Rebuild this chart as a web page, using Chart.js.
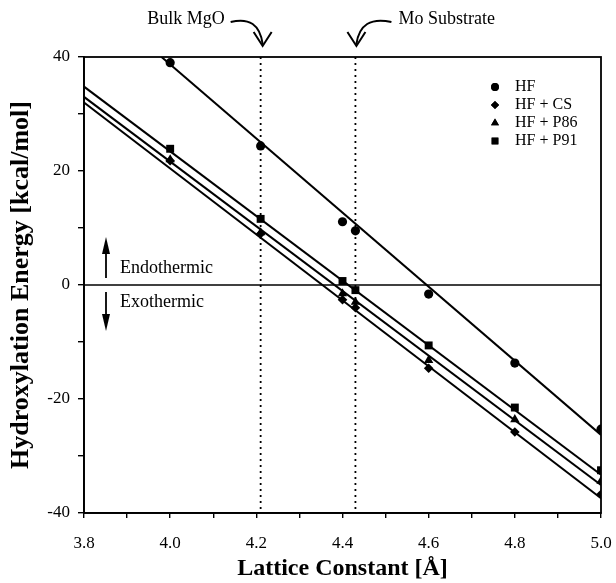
<!DOCTYPE html>
<html>
<head>
<meta charset="utf-8">
<script src="https://cdn.jsdelivr.net/npm/chart.js@4.4.1/dist/chart.umd.min.js"></script>
<style>
  html, body { margin: 0; padding: 0; background: #fff; }
  #wrap { width: 616px; height: 583px; }
</style>
</head>
<body>
<div id="wrap"><canvas id="chart" width="616" height="583"></canvas></div>
<script>
const FONT = "'Liberation Serif', 'Times New Roman', serif";

// lattice constants [Å]
const latticeConstants = [4.0, 4.21, 4.40, 4.43, 4.6, 4.8, 5.0];

// hydroxylation energies [kcal/mol]
const hfValues  = [39.0, 24.4, 11.1, 9.5, -1.6, -13.7, -25.3];
const csValues  = [21.8, 9.0, -2.6, -4.0, -14.6, -25.8, -36.7];
const p86Values = [22.0, 9.2, -1.5, -3.0, -13.2, -23.6, -34.4];
const p91Values = [23.9, 11.6, 0.7, -0.9, -10.6, -21.5, -32.5];

// fitted straight lines, [x, y] end points
const hfFit  = [[3.98, 40.0], [5.0, -26.3]];
const csFit  = [[3.8, 32.0], [5.0, -37.4]];
const p86Fit = [[3.8, 33.0], [5.0, -35.1]];
const p91Fit = [[3.8, 34.8], [5.0, -33.3]];

const seriesLabels = ['HF', 'HF + CS', 'HF + P86', 'HF + P91'];
const seriesMarkers = ['circle', 'rectRot', 'triangle', 'rect'];
const markerSizes = [4.6, 4.8, 5.4, 5.6];

// reference positions
const bulkMgO = 4.21;
const moSubstrate = 4.43;

const xTicks = [3.8, 4.0, 4.2, 4.4, 4.6, 4.8, 5.0];
const xMinorTicks = [3.8, 3.9, 4.0, 4.1, 4.2, 4.3, 4.4, 4.5, 4.6, 4.7, 4.8, 4.9, 5.0];
const yTicks = [-40, -20, 0, 20, 40];

function toPoints(xs, ys) {
    return xs.map((x, i) => ({ x: x, y: ys[i] }));
}

function fitPoints(pairs) {
    return pairs.map(p => ({ x: p[0], y: p[1] }));
}

const markerSets = [hfValues, csValues, p86Values, p91Values].map((vals, i) => ({
    label: seriesLabels[i],
    data: toPoints(latticeConstants, vals),
    showLine: false,
    pointStyle: seriesMarkers[i],
    pointRadius: markerSizes[i],
    backgroundColor: '#000',
    borderColor: '#000',
    borderWidth: 0
}));

const fitSets = [hfFit, csFit, p86Fit, p91Fit].map((pairs, i) => ({
    label: seriesLabels[i] + ' fit',
    data: fitPoints(pairs),
    showLine: true,
    pointRadius: 0,
    borderColor: '#000',
    borderWidth: 2,
    fill: false
}));

const decorations = {
    id: 'decorations',
    beforeDatasetsDraw(chart) {
        const { ctx, chartArea: a, scales: { x, y } } = chart;
        ctx.save();
        ctx.strokeStyle = '#000';
        // zero line
        ctx.lineWidth = 1.6;
        ctx.beginPath();
        ctx.moveTo(a.left, y.getPixelForValue(0));
        ctx.lineTo(a.right, y.getPixelForValue(0));
        ctx.stroke();
        // dotted reference lines
        ctx.lineWidth = 1.8;
        ctx.setLineDash([2, 4]);
        [bulkMgO, moSubstrate].forEach(v => {
            const px = x.getPixelForValue(v);
            ctx.beginPath();
            ctx.moveTo(px, a.top);
            ctx.lineTo(px, a.bottom);
            ctx.stroke();
        });
        ctx.restore();
    },
    afterDraw(chart) {
        const { ctx, chartArea: a, scales: { x, y } } = chart;
        ctx.save();
        ctx.strokeStyle = '#000';
        ctx.fillStyle = '#000';
        // frame
        ctx.lineWidth = 1.8;
        ctx.strokeRect(a.left, a.top, a.right - a.left, a.bottom - a.top);

        // top annotations
        ctx.font = '18px ' + FONT;
        ctx.textBaseline = 'middle';
        ctx.lineWidth = 2;
        const mg = x.getPixelForValue(bulkMgO) + 2;
        const mo = x.getPixelForValue(moSubstrate) + 1;
        ctx.textAlign = 'right';
        ctx.fillText('Bulk MgO', mg - 38, 19);
        ctx.beginPath();
        ctx.moveTo(mg - 32, 22);
        ctx.quadraticCurveTo(mg - 4, 15, mg, 44);
        ctx.stroke();
        ctx.beginPath();
        ctx.moveTo(mg - 9, 32); ctx.lineTo(mg, 46); ctx.lineTo(mg + 9, 32);
        ctx.stroke();

        ctx.textAlign = 'left';
        ctx.fillText('Mo Substrate', mo + 42, 19);
        ctx.beginPath();
        ctx.moveTo(mo + 35, 22);
        ctx.quadraticCurveTo(mo + 4, 15, mo, 44);
        ctx.stroke();
        ctx.beginPath();
        ctx.moveTo(mo - 9, 32); ctx.lineTo(mo, 46); ctx.lineTo(mo + 9, 32);
        ctx.stroke();

        // endo / exothermic
        const zero = y.getPixelForValue(0);
        ctx.font = '18px ' + FONT;
        ctx.textAlign = 'left';
        ctx.fillText('Endothermic', a.left + 36, zero - 17);
        ctx.fillText('Exothermic', a.left + 36, zero + 17);
        const ax = a.left + 22;
        ctx.lineWidth = 1.8;
        ctx.beginPath(); ctx.moveTo(ax, zero - 7); ctx.lineTo(ax, zero - 40); ctx.stroke();
        ctx.beginPath(); ctx.moveTo(ax - 4, zero - 31); ctx.lineTo(ax, zero - 48); ctx.lineTo(ax + 4, zero - 31); ctx.closePath(); ctx.fill();
        ctx.beginPath(); ctx.moveTo(ax, zero + 7); ctx.lineTo(ax, zero + 38); ctx.stroke();
        ctx.beginPath(); ctx.moveTo(ax - 4, zero + 29); ctx.lineTo(ax, zero + 46); ctx.lineTo(ax + 4, zero + 29); ctx.closePath(); ctx.fill();

        // legend
        ctx.font = '16px ' + FONT;
        const lx = a.right - 106, ly = a.top + 30;
        markerSets.forEach((ds, i) => {
            const yy = ly + i * 18;
            Chart.helpers.drawPoint(ctx, { pointStyle: ds.pointStyle, radius: ds.pointRadius * 0.85, borderWidth: 0 }, lx, yy);
            ctx.fill();
            ctx.fillText(ds.label, lx + 20, yy);
        });
        ctx.restore();
    }
};

new Chart(document.getElementById('chart'), {
    type: 'scatter',
    data: { datasets: [...fitSets, ...markerSets] },
    options: {
        responsive: false,
        animation: false,
        layout: { padding: { top: 57, right: 15, left: 0, bottom: 0 } },
        plugins: {
            legend: { display: false },
            tooltip: { enabled: false }
        },
        scales: {
            x: {
                type: 'linear',
                min: 3.8,
                max: 5.0,
                afterFit: s => { s.height = 70; s.paddingLeft = 0; s.paddingRight = 0; },
                afterBuildTicks: s => { s.ticks = xMinorTicks.map(v => ({ value: v })); },
                ticks: {
                    color: '#000',
                    font: { family: FONT, size: 17 },
                    padding: 15,
                    maxRotation: 0,
                    callback: v => xTicks.some(t => Math.abs(t - v) < 1e-6) ? v.toFixed(1) : ''
                },
                grid: { drawOnChartArea: false, drawTicks: true, tickLength: 5, color: '#000', lineWidth: 1.4 },
                border: { color: '#000', width: 1.8 },
                title: {
                    display: true,
                    text: 'Lattice Constant [Å]',
                    color: '#000',
                    font: { family: FONT, size: 24, weight: 'bold' },
                    padding: { top: 0, bottom: 0 }
                }
            },
            y: {
                type: 'linear',
                min: -40,
                max: 40,
                afterFit: s => { s.width = 84; s.paddingTop = 0; s.paddingBottom = 0; },
                ticks: {
                    stepSize: 10,
                    color: '#000',
                    font: { family: FONT, size: 17 },
                    padding: 8,
                    callback: v => yTicks.includes(v) ? String(v) : ''
                },
                grid: { drawOnChartArea: false, drawTicks: true, tickLength: 6, color: '#000', lineWidth: 1.4 },
                border: { color: '#000', width: 1.8 },
                title: {
                    display: true,
                    text: 'Hydroxylation Energy [kcal/mol]',
                    color: '#000',
                    font: { family: FONT, size: 26, weight: 'bold' },
                    padding: { top: 6, bottom: 0 }
                }
            }
        }
    },
    plugins: [decorations]
});
</script>
</body>
</html>
